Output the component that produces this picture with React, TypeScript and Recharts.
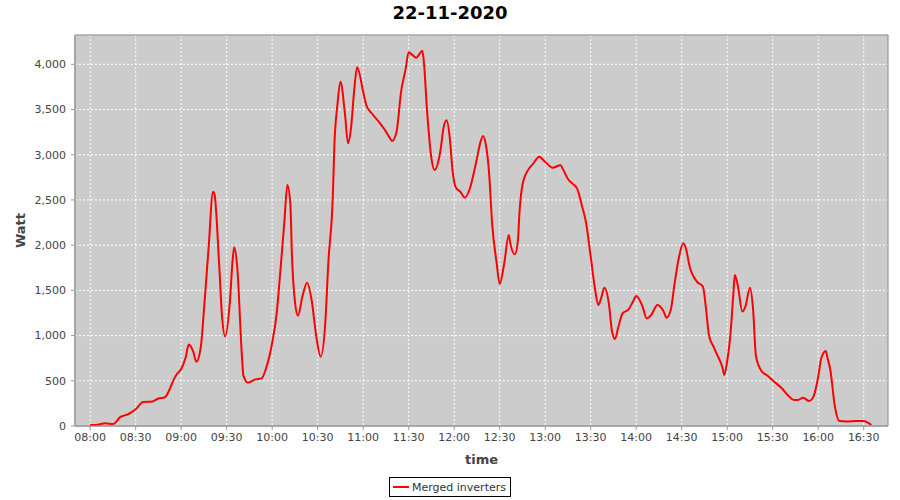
import { LineChart, Line, XAxis, YAxis, CartesianGrid, Legend, ReferenceArea } from 'recharts'

const times = [
  '08:00', '08:05', '08:10', '08:15', '08:20', '08:25', '08:30', '08:35', '08:41', '08:45',
  '08:49', '08:52', '08:55', '08:57', '09:00', '09:03', '09:05', '09:08', '09:10', '09:13',
  '09:15', '09:18', '09:21', '09:22', '09:25', '09:27', '09:29', '09:32', '09:34', '09:35',
  '09:37', '09:40', '09:41', '09:44', '09:49', '09:53', '09:56', '10:00', '10:03', '10:05',
  '10:08', '10:10', '10:12', '10:13', '10:15', '10:17', '10:20', '10:23', '10:26', '10:29',
  '10:32', '10:35', '10:37', '10:40', '10:41', '10:43', '10:45', '10:48', '10:50', '10:52',
  '10:54', '10:56', '11:00', '11:02', '11:06', '11:11', '11:14', '11:17', '11:19', '11:22',
  '11:25', '11:28', '11:30', '11:32', '11:35', '11:37', '11:39', '11:40', '11:42', '11:45',
  '11:47', '11:51', '11:53', '11:55', '11:57', '11:59', '12:01', '12:04', '12:07', '12:10',
  '12:15', '12:17', '12:19', '12:21', '12:23', '12:25', '12:28', '12:30', '12:33', '12:36',
  '12:37', '12:40', '12:42', '12:43', '12:45', '12:49', '12:52', '12:56', '13:00', '13:05',
  '13:10', '13:12', '13:15', '13:18', '13:21', '13:24', '13:27', '13:30', '13:33', '13:35',
  '13:37', '13:39', '13:42', '13:44', '13:46', '13:48', '13:51', '13:55', '13:58', '14:00',
  '14:04', '14:07', '14:10', '14:14', '14:18', '14:20', '14:23', '14:25', '14:28', '14:31',
  '14:33', '14:35', '14:40', '14:44', '14:46', '14:48', '14:51', '14:53', '14:55', '14:57',
  '14:58', '15:00', '15:02', '15:04', '15:05', '15:07', '15:10', '15:12', '15:15', '15:17',
  '15:19', '15:23', '15:26', '15:31', '15:36', '15:40', '15:44', '15:47', '15:50', '15:54',
  '15:57', '16:00', '16:02', '16:05', '16:06', '16:08', '16:11', '16:14', '16:19', '16:25',
  '16:30', '16:33', '16:35',
]

const watts = [
  10, 15, 30, 22, 100, 130, 185, 265, 270, 305,
  315, 390, 510, 570, 630, 760, 900, 820, 710, 880,
  1280, 1950, 2590, 2560, 1800, 1200, 990, 1350, 1850, 1976,
  1750, 785, 560, 480, 516, 527, 640, 921, 1250, 1633,
  2250, 2665, 2450, 1900, 1375, 1220, 1437, 1585, 1393, 1000,
  766, 1136, 1800, 2554, 3100, 3550, 3807, 3450, 3126, 3300,
  3700, 3967, 3697, 3550, 3450, 3350, 3281, 3200, 3152, 3255,
  3697, 3950, 4132, 4110, 4073, 4110, 4150, 4028, 3513, 2960,
  2831, 3052, 3300, 3380, 3200, 2812, 2640, 2591, 2525, 2610,
  2960, 3120, 3207, 3100, 2800, 2241, 1800, 1570, 1800, 2112,
  2020, 1898, 2050, 2350, 2665, 2838, 2900, 2978, 2920, 2856,
  2883, 2830, 2731, 2680, 2628, 2450, 2241, 1872, 1500, 1338,
  1420, 1530, 1350, 1050, 962, 1080, 1246, 1290, 1380, 1437,
  1330, 1190, 1230, 1338, 1270, 1198, 1300, 1540, 1850, 2020,
  1950, 1780, 1596, 1540, 1300, 1000, 877, 800, 730, 640,
  564, 720, 988, 1450, 1670, 1550, 1265, 1320, 1529, 1300,
  766, 600, 564, 490, 417, 340, 288, 290, 313, 276,
  330, 545, 750, 830, 760, 619, 213, 55, 50, 55,
  55, 35, 11,
]

const timeTicks = [
  '08:00', '08:30', '09:00', '09:30', '10:00', '10:30', '11:00', '11:30', '12:00',
  '12:30', '13:00', '13:30', '14:00', '14:30', '15:00', '15:30', '16:00', '16:30',
]
const wattTicks = [0, 500, 1000, 1500, 2000, 2500, 3000, 3500, 4000]

const toMin = (s: string) => {
  const [h, m] = s.split(':').map(Number)
  return h * 60 + m
}
const fmtTime = (v: number) =>
  `${String(Math.floor(v / 60)).padStart(2, '0')}:${String(v % 60).padStart(2, '0')}`

const data = times.map((t, i) => ({ t: toMin(t), watt: watts[i] }))

const X_MIN = 470
const X_MAX = 1006
const Y_MAX = 4324

const font = '"DejaVu Sans", sans-serif'

function LegendBox() {
  return (
    <div style={{ display: 'flex', justifyContent: 'center', paddingTop: 1 }}>
      <div
        style={{
          border: '1px solid #000',
          height: 20,
          boxSizing: 'border-box',
          display: 'flex',
          alignItems: 'center',
          padding: '0 4px 0 2px',
          fontFamily: font,
          fontSize: 11,
          color: '#333',
          background: '#fff',
        }}
      >
        <svg width={18} height={6} style={{ marginRight: 2 }}>
          <line x1={1} y1={3} x2={17} y2={3} stroke="#ff0000" strokeWidth={2} />
        </svg>
        Merged inverters
      </div>
    </div>
  )
}

export default function App() {
  return (
    <div style={{ position: 'absolute', left: 0, top: 0, width: 900, height: 500, background: '#fff' }}>
      <div
        style={{
          position: 'absolute',
          top: 2,
          left: 0,
          width: 900,
          textAlign: 'center',
          fontFamily: font,
          fontSize: 18,
          fontWeight: 'bold',
          color: '#000',
        }}
      >
        22-11-2020
      </div>
      <LineChart width={900} height={500} data={data} margin={{ top: 35, right: 12, bottom: 0, left: 0 }}>
        <CartesianGrid stroke="#ffffff" strokeDasharray="2 2" fill="#cccccc" fillOpacity={1} />
        <XAxis
          dataKey="t"
          type="number"
          domain={[X_MIN, X_MAX]}
          allowDataOverflow
          ticks={timeTicks.map(toMin)}
          tickFormatter={fmtTime}
          tick={{ fontSize: 11, fill: '#444', fontFamily: font }}
          tickSize={4}
          tickMargin={3}
          stroke="#999"
          height={50}
          label={{
            value: 'time',
            position: 'insideBottom',
            offset: 12,
            style: { fontSize: 13, fontWeight: 'bold', fill: '#444', fontFamily: font },
          }}
        />
        <YAxis
          type="number"
          domain={[0, Y_MAX]}
          allowDataOverflow
          ticks={wattTicks}
          tickFormatter={(v: number) => v.toLocaleString('en-US')}
          tick={{ fontSize: 11, fill: '#444', fontFamily: font }}
          tickSize={4}
          tickMargin={5}
          stroke="#999"
          width={75}
          label={{
            value: 'Watt',
            angle: -90,
            position: 'insideLeft',
            offset: 20,
            style: { textAnchor: 'middle', fontSize: 13, fontWeight: 'bold', fill: '#444', fontFamily: font },
          }}
        />
        <ReferenceArea x1={X_MIN} x2={X_MAX} y1={0} y2={Y_MAX} fill="none" stroke="#808080" strokeWidth={1} />
        <Legend height={24} verticalAlign="bottom" wrapperStyle={{ left: 0, width: 900 }} content={() => <LegendBox />} />
        <Line
          type="monotone"
          dataKey="watt"
          name="Merged inverters"
          stroke="#ff0000"
          strokeWidth={2}
          dot={false}
          isAnimationActive={false}
        />
      </LineChart>
    </div>
  )
}
